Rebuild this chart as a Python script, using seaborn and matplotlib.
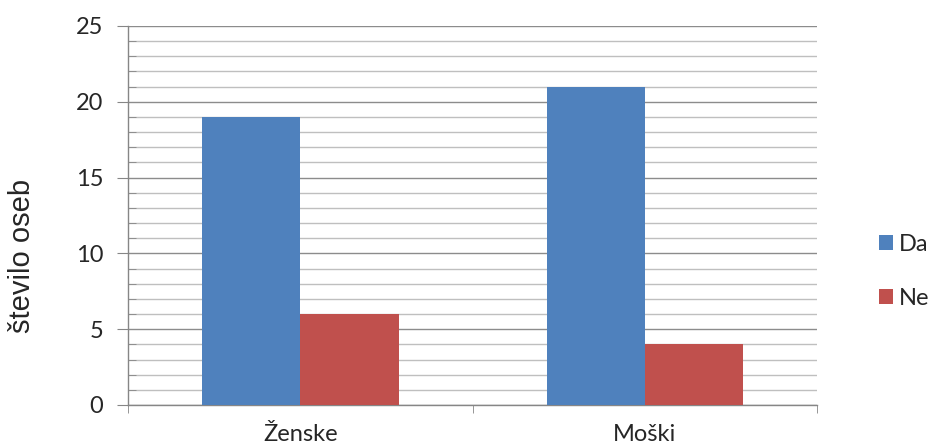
import matplotlib
matplotlib.use("Agg")
import matplotlib.pyplot as plt
import seaborn as sns
import pandas as pd
from matplotlib.ticker import MultipleLocator
from matplotlib.patches import Patch

categories = ["Ženske", "Moški"]
series = ["Da", "Ne"]
da_values = [19, 21]
ne_values = [6, 4]
colors = {"Da": "#4F81BD", "Ne": "#C0504D"}

df = pd.DataFrame({
    "spol": categories * 2,
    "odgovor": ["Da"] * len(categories) + ["Ne"] * len(categories),
    "vrednost": da_values + ne_values,
})

sns.set_style("white")
plt.rcParams["font.family"] = ["Lato", "DejaVu Sans"]

fig = plt.figure(figsize=(9.35, 4.48), dpi=100)
ax = fig.add_axes([0.137, 0.096, 0.737, 0.846])

sns.barplot(data=df, x="spol", y="vrednost", hue="odgovor", order=categories,
            hue_order=series, palette=colors, width=0.57, saturation=1,
            linewidth=0, ax=ax, legend=False, zorder=3)

ax.set_xlim(-0.5, 1.5)
ax.set_ylim(0, 25)
ax.yaxis.set_major_locator(MultipleLocator(5))
ax.yaxis.set_minor_locator(MultipleLocator(1))
ax.grid(which="major", axis="y", color="#8C8C8C", linewidth=1.0, zorder=0)
ax.grid(which="minor", axis="y", color="#BFBFBF", linewidth=1.0, zorder=0)
ax.set_axisbelow(True)

for side in ["top", "right"]:
    ax.spines[side].set_visible(False)
for side in ["left", "bottom"]:
    ax.spines[side].set_color("#868686")
    ax.spines[side].set_linewidth(1.0)

ax.tick_params(axis="y", which="major", direction="out", length=8, color="#868686",
               labelsize=17, pad=10, left=True)
ax.tick_params(axis="y", which="minor", direction="in", length=6, color="#868686", left=True)
ax.set_xticks([0, 1])
ax.set_xticklabels(categories)
ax.set_xticks([-0.5, 0.5, 1.5], minor=True)
ax.tick_params(axis="x", which="major", length=0, labelsize=17, pad=14)
ax.tick_params(axis="x", which="minor", direction="out", length=6, color="#868686", bottom=True)

ax.set_xlabel("")
ax.set_ylabel("število oseb", fontsize=21, family=["Liberation Sans", "DejaVu Sans"])
ax.yaxis.set_label_coords(-0.134, 0.393)

handles = [Patch(facecolor=colors[s], edgecolor="none") for s in series]
fig.legend(handles, series, loc="center left", bbox_to_anchor=(0.94, 0.395),
           frameon=False, fontsize=17, handlelength=0.6, handleheight=0.6,
           handletextpad=0.25, labelspacing=1.4, borderaxespad=0, borderpad=0)

fig.savefig("out.png", dpi=100)
